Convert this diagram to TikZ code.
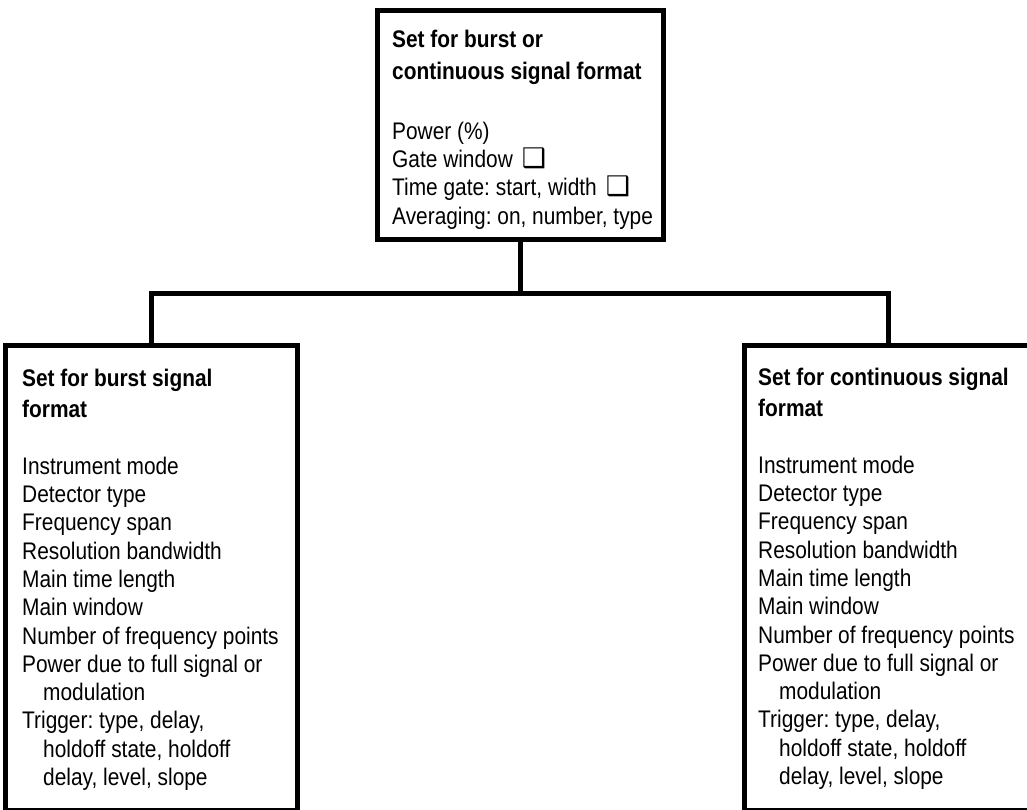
\documentclass[tikz,border=0pt]{standalone}
\usepackage{fontspec}
\setmainfont{Liberation Sans}[FakeStretch=0.87]
\newfontfamily\symbolfont{DejaVu Sans}
% small drop-shadow check box after a setting
\newcommand\checkmarkbox{\hspace{9pt}{\symbolfont\fontsize{27}{27}\selectfont ❑}}
\newcommand\subline{\hspace*{21pt}}
\frenchspacing

\begin{document}
\begin{tikzpicture}[x=1pt,y=-1pt,
  frame/.style={draw, line width=5pt, rectangle, inner sep=0pt},
  wire/.style={line width=5pt},
  txt/.style={anchor=north west, inner sep=0pt, align=left,
    font=\fontsize{24}{28.3}\selectfont}]
\clip (0,0) rectangle (1027,810);
\fill[white] (0,0) rectangle (1027,810);

% boxes
\node[frame, minimum width=286pt, minimum height=229pt] (top) at (520.5,125) {};
\node[frame, minimum width=292pt, minimum height=465pt] (burst) at (151.5,578) {};
\node[frame, minimum width=288pt, minimum height=465pt] (cont) at (888.5,578) {};

% tree connectors
\coordinate (split) at (520.5,293.5);
\draw[wire] (top.south) -- (split);
\draw[wire] (burst.north) |- (split) -| (cont.north);

% box contents
\node[txt] (topText) at (392,27.2) {\strut\textbf{Set for burst or}\\[3.7pt]
  \textbf{continuous signal format}\\[31.7pt]
  Power (\%)\\
  Gate window\checkmarkbox\\
  Time gate: start, width\checkmarkbox\\
  Averaging: on, number, type};

\node[txt] (burstText) at (22,366.2) {\strut\textbf{Set for burst signal}\\[2.7pt]
  \textbf{format}\\[28.7pt]
  Instrument mode\\
  Detector type\\
  Frequency span\\
  Resolution bandwidth\\
  Main time length\\
  Main window\\
  Number of frequency points\\
  Power due to full signal or\\
  \subline modulation\\
  Trigger: type, delay,\\
  \subline holdoff state, holdoff\\
  \subline delay, level, slope};

\node[txt] (contText) at (758,365.2) {\strut\textbf{Set for continuous signal}\\[2.7pt]
  \textbf{format}\\[28.7pt]
  Instrument mode\\
  Detector type\\
  Frequency span\\
  Resolution bandwidth\\
  Main time length\\
  Main window\\
  Number of frequency points\\
  Power due to full signal or\\
  \subline modulation\\
  Trigger: type, delay,\\
  \subline holdoff state, holdoff\\
  \subline delay, level, slope};
\end{tikzpicture}
\end{document}
